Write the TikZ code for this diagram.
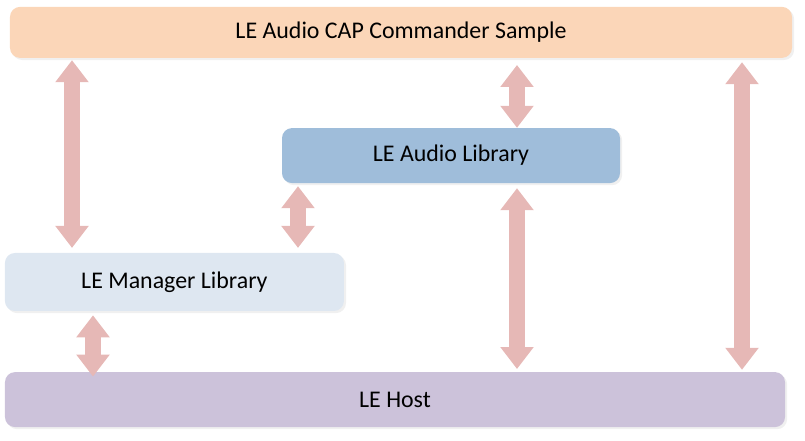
\documentclass[tikz,border=0pt]{standalone}
\usepackage{fontspec}
\setmainfont{Carlito}
\usetikzlibrary{arrows.meta,shadows}
\definecolor{capfill}{HTML}{FBD6B8}
\definecolor{audfill}{HTML}{9FBDDA}
\definecolor{mgrfill}{HTML}{DEE7F1}
\definecolor{hostfill}{HTML}{CCC2DA}
\definecolor{linkcol}{HTML}{E6B8B6}
\tikzset{
  block/.style={rounded corners=0.25cm, inner sep=0pt, font=\fontsize{17}{20}\selectfont,
    drop shadow={opacity=0.12, shadow xshift=1.5pt, shadow yshift=-1.5pt}},
  link/.style={linkcol, line width=0.4cm,
    {Triangle[width=0.8cm,length=0.55cm]}-{Triangle[width=0.8cm,length=0.55cm]}}
}
\begin{document}
\begin{tikzpicture}
\useasboundingbox (0,0) rectangle (20.125,11);
\node[block, fill=capfill, minimum width=19.55cm, minimum height=1.275cm] (cap) at (10.025,10.19) {LE Audio CAP Commander Sample};
\node[block, fill=audfill, minimum width=8.45cm, minimum height=1.375cm] (aud) at (11.275,7.11) {LE Audio Library};
\node[block, fill=mgrfill, minimum width=8.475cm, minimum height=1.45cm] (mgr) at (4.36,3.95) {LE Manager Library};
\node[block, fill=hostfill, minimum width=19.5cm, minimum height=1.375cm] (host) at (9.875,1.01) {LE Host};
\coordinate (c1) at (1.8,0);
\coordinate (c2) at (12.925,0);
\coordinate (c3) at (18.55,0);
\coordinate (c4) at (7.45,0);
\coordinate (c5) at (2.325,0);
\draw[link, shorten <=0.05cm, shorten >=0.12cm] (cap.south -| c1) -- (mgr.north -| c1);
\draw[link, shorten <=0.17cm, shorten >=0cm] (cap.south -| c2) -- (aud.north -| c2);
\draw[link, shorten <=0.1cm, shorten >=0.05cm] (cap.south -| c3) -- (host.north -| c3);
\draw[link, shorten <=0.07cm, shorten >=0.12cm] (aud.south -| c4) -- (mgr.north -| c4);
\draw[link, shorten <=0.12cm, shorten >=0.07cm] (aud.south -| c2) -- (host.north -| c2);
\draw[link, shorten <=0.1cm, shorten >=-0.12cm] (mgr.south -| c5) -- (host.north -| c5);
\end{tikzpicture}
\end{document}
